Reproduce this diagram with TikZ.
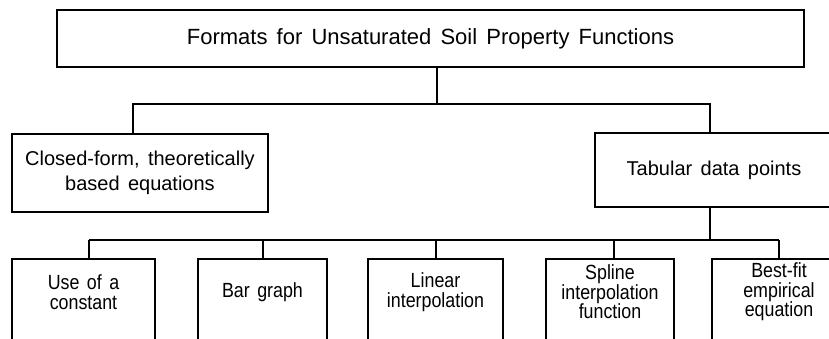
\documentclass[tikz,border=0pt]{standalone}
\usepackage{fontspec}
\setmainfont{Liberation Sans}[WordSpace=1.5]
\newfontfamily\narrowfont{Liberation Sans}[FakeStretch=0.87,WordSpace=1.5]
\newcommand\boxtext[3]{\parbox[c][#1][c]{#2}{\centering #3\par\vspace{25pt}}}
\begin{document}
\begin{tikzpicture}[x=1pt,y=-1pt,
  box/.style={draw,line width=1.8pt,inner sep=0pt,align=center},
  toptxt/.style={font=\fontsize{22}{26}\selectfont},
  midtxt/.style={font=\fontsize{20}{25}\selectfont},
  bottxt/.style={font=\narrowfont\fontsize{20.5}{19.5}\selectfont},
  conn/.style={line width=1.5pt}]
\useasboundingbox (0,0) rectangle (829,338);
\clip (0,0) rectangle (829,338);
% top
\node[box,toptxt,minimum width=747pt,minimum height=57pt] (top) at (430.5,38.5)
  {Formats for Unsaturated Soil Property Functions};
% middle
\node[box,midtxt,minimum width=256pt,minimum height=78pt] (left) at (140,173)
  {Closed-form, theoretically\\based equations};
\node[box,midtxt,minimum width=238pt,minimum height=74pt] (tab) at (714,170)
  {Tabular data points};
% bottom
\node[box,bottxt] (b1) at (83.5,304.5) {\boxtext{91pt}{143pt}{Use of a\\constant}};
\node[box,bottxt] (b2) at (262.5,304.5) {\boxtext{91pt}{129pt}{Bar graph}};
\node[box,bottxt] (b3) at (435.5,304.5) {\boxtext{91pt}{135pt}{Linear\\interpolation}};
\node[box,bottxt] (b4) at (610,304.5) {\boxtext{91pt}{128pt}{Spline\\interpolation\\function}};
\node[box,bottxt] (b5) at (779,304.5) {\boxtext{91pt}{134pt}{Best-fit\\empirical\\equation}};
% junctions
\coordinate (j0) at (437,104);
\coordinate (jl) at (133,104);
\coordinate (jr) at (710,104);
\coordinate (k0) at (710,240);
\coordinate (k1) at (89,240);
\coordinate (k2) at (263,240);
\coordinate (k3) at (436,240);
\coordinate (k4) at (614,240);
\coordinate (k5) at (779,240);
% connectors
\draw[conn] (top.south -| j0) -- (j0);
\draw[conn] (left.north -| jl) -- (jl) -- (jr) -- (tab.north -| jr);
\draw[conn] (tab.south -| k0) -- (k0);
\draw[conn] (k1) -- (k5);
\draw[conn] (b1.north -| k1) -- (k1);
\draw[conn] (b2.north -| k2) -- (k2);
\draw[conn] (b3.north -| k3) -- (k3);
\draw[conn] (b4.north -| k4) -- (k4);
\draw[conn] (b5.north -| k5) -- (k5);
\end{tikzpicture}
\end{document}
